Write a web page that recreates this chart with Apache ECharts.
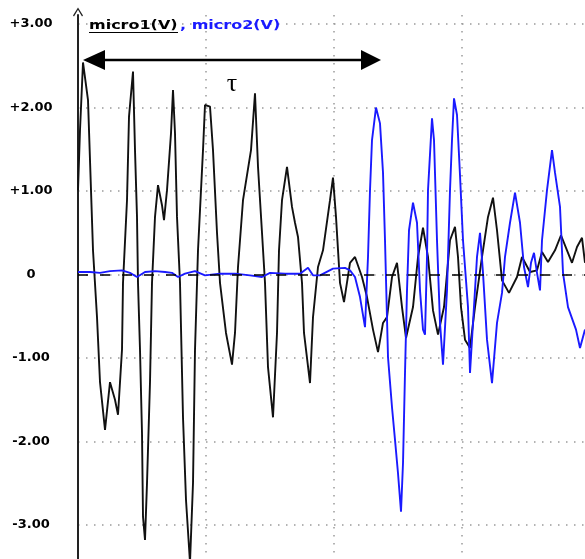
<!DOCTYPE html>
<html>
<head>
<meta charset="utf-8">
<script src="https://cdn.jsdelivr.net/npm/echarts@6/dist/echarts.min.js"></script>
<style>html,body{margin:0;padding:0;background:#fff}#c{width:585px;height:559px}</style>
</head>
<body>
<div id="c"></div>
<script>
// time axis (arbitrary units, one grid division = 128)
var micro1T = [0,2,5,10,12,15,19,22,27,32,37,40,44,45,49,51,55,57,59,60,62,64,65,67,69,72,74,77,80,84,86,89,93,95,97,99,102,105,108,112,115,117,120,125,127,132,135,139,142,148,154,157,160,165,173,177,180,184,187,190,195,199,201,204,209,214,217,220,224,226,232,235,240,245,252,255,258,262,266,272,277,284,289,295,300,305,309,314,319,324,328,335,340,345,350,355,360,366,372,377,380,383,387,392,397,404,410,415,419,424,431,439,444,452,459,464,470,477,483,489,494,499,504,507];
var micro1V = [1.01,1.73,2.54,2.09,1.37,0.29,-0.51,-1.29,-1.86,-1.29,-1.50,-1.68,-0.90,-0.10,0.89,1.89,2.43,1.49,0.69,-0.10,-0.90,-1.90,-2.90,-3.18,-2.50,-1.29,-0.10,0.69,1.07,0.83,0.65,1.01,1.69,2.21,1.69,0.69,-0.10,-1.71,-2.70,-3.45,-2.50,-0.90,0.29,1.49,2.03,2.01,1.49,0.50,-0.10,-0.70,-1.08,-0.70,0.09,0.89,1.49,2.17,1.29,0.50,-0.10,-1.11,-1.71,-0.70,0.29,0.89,1.29,0.81,0.62,0.45,-0.10,-0.70,-1.30,-0.51,0.09,0.29,0.89,1.16,0.69,-0.10,-0.33,0.14,0.21,-0.03,-0.27,-0.66,-0.93,-0.58,-0.51,-0.03,0.14,-0.39,-0.76,-0.39,0.21,0.56,0.21,-0.43,-0.72,-0.39,0.41,0.57,0.21,-0.39,-0.78,-0.88,-0.39,0.21,0.69,0.92,0.53,-0.07,-0.22,-0.03,0.21,0.03,0.05,0.27,0.15,0.29,0.47,0.29,0.14,0.33,0.44,0.14,-0.27,-0.51];
var micro2T = [0,12,22,32,44,52,59,67,77,87,94,100,107,117,127,142,157,172,184,192,207,222,230,235,242,255,267,272,277,282,287,290,292,294,298,302,305,307,310,314,317,320,323,325,327,329,331,335,339,342,345,347,349,350,354,356,359,362,365,369,372,374,376,379,382,385,390,392,395,399,402,405,409,414,419,424,427,432,437,442,446,450,453,456,459,462,464,469,474,477,482,485,490,498,502,507];
var micro2V = [0.03,0.03,0.02,0.04,0.05,0.02,-0.03,0.03,0.04,0.03,0.02,-0.03,0.01,0.04,-0.01,0.01,0.01,-0.01,-0.03,0.02,0.01,0.01,0.08,-0.01,-0.01,0.07,0.08,0.05,-0.03,-0.27,-0.63,0.21,1.01,1.61,2.00,1.81,1.22,0.41,-0.99,-1.59,-1.98,-2.38,-2.84,-2.26,-1.18,-0.19,0.53,0.86,0.62,-0.19,-0.66,-0.72,0.21,1.01,1.87,1.61,0.41,-0.58,-1.08,-0.19,1.01,1.61,2.11,1.91,1.19,0.41,-0.39,-1.18,-0.58,0.21,0.50,0.02,-0.78,-1.30,-0.58,-0.22,0.21,0.62,0.98,0.62,0.09,-0.15,0.14,0.26,0.02,-0.19,0.41,1.01,1.49,1.22,0.81,0.02,-0.39,-0.66,-0.88,-0.66,-0.54];
var yTickLabels = {'-3':'-3.00','-2':'-2.00','-1':'-1.00','0':'0','1':'+1.00','2':'+2.00','3':'+3.00'};
var seriesNames = ['micro1(V)', 'micro2(V)'];

function pairs(t, v) { return t.map(function (x, i) { return [x, v[i]]; }); }

var chart = echarts.init(document.getElementById('c'), null, {renderer: 'canvas'});
var dotted = {color: '#9a9a9a', width: 1.5, type: [1.5, 6.5]};
chart.setOption({
  animation: false,
  grid: {left: 78, width: 507, top: 15, height: 593.5, containLabel: false, outerBoundsMode: 'none'},
  xAxis: {
    type: 'value', min: 0, max: 507, interval: 128,
    axisLine: {show: false}, axisTick: {show: false}, axisLabel: {show: false},
    splitLine: {show: true, showMinLine: false, showMaxLine: false, lineStyle: dotted}
  },
  yAxis: {
    type: 'value', min: -4, max: 3.108, interval: 1,
    axisLine: {show: true, onZero: false, lineStyle: {color: '#222', width: 2},
      symbol: ['none', 'path://M0,8 L5,0 L10,8 L9,9 L5,2.3 L1,9 Z'], symbolSize: [10, 9], symbolOffset: [0, 3]},
    axisTick: {show: false},
    axisLabel: {
      margin: 47, align: 'center', color: '#000', fontFamily: 'DejaVu Sans', fontWeight: 'bold', fontSize: 13,
      formatter: function (v) { var k = String(Math.round(v)); return (Math.abs(v - Math.round(v)) < 1e-6 && yTickLabels[k]) ? yTickLabels[k] : ''; }
    },
    splitLine: {show: true, showMinLine: false, showMaxLine: false, lineStyle: dotted}
  },
  series: [
    {
      name: seriesNames[0], type: 'line', data: pairs(micro1T, micro1V), showSymbol: false, smooth: false,
      lineStyle: {color: '#111', width: 1.9}, z: 3,
      markLine: {silent: true, symbol: ['none', 'none'], label: {show: false},
        lineStyle: {color: '#000', width: 1.5, type: [10, 12]}, data: [{yAxis: 0}]}
    },
    {
      name: seriesNames[1], type: 'line', data: pairs(micro2T, micro2V), showSymbol: false, smooth: false,
      lineStyle: {color: '#1a1aff', width: 1.9}, z: 4
    }
  ],
  graphic: [
    {type: 'text', x: 89, y: 26, scaleX: 1.23, style: {text: seriesNames[0], fill: '#000', font: 'bold 13px "DejaVu Sans"', verticalAlign: 'middle'}, z: 10},
    {type: 'line', shape: {x1: 89, y1: 32.5, x2: 178, y2: 32.5}, style: {stroke: '#000', lineWidth: 1.2}, z: 10},
    {type: 'text', x: 180, y: 26, scaleX: 1.23, style: {text: ', ' + seriesNames[1], fill: '#1a1aff', font: 'bold 13px "DejaVu Sans"', verticalAlign: 'middle'}, z: 10},
    {type: 'line', shape: {x1: 100, y1: 60, x2: 364, y2: 60}, style: {stroke: '#000', lineWidth: 2.5}, z: 10},
    {type: 'polygon', shape: {points: [[83, 60], [105, 50], [105, 70]]}, style: {fill: '#000'}, z: 10},
    {type: 'polygon', shape: {points: [[381, 60], [361, 50], [361, 70]]}, style: {fill: '#000'}, z: 10},
    {type: 'text', x: 232, y: 84, style: {text: 'τ', fill: '#000', font: '26px "Liberation Serif"', align: 'center', verticalAlign: 'middle'}, z: 10}
  ]
});
</script>
</body>
</html>
